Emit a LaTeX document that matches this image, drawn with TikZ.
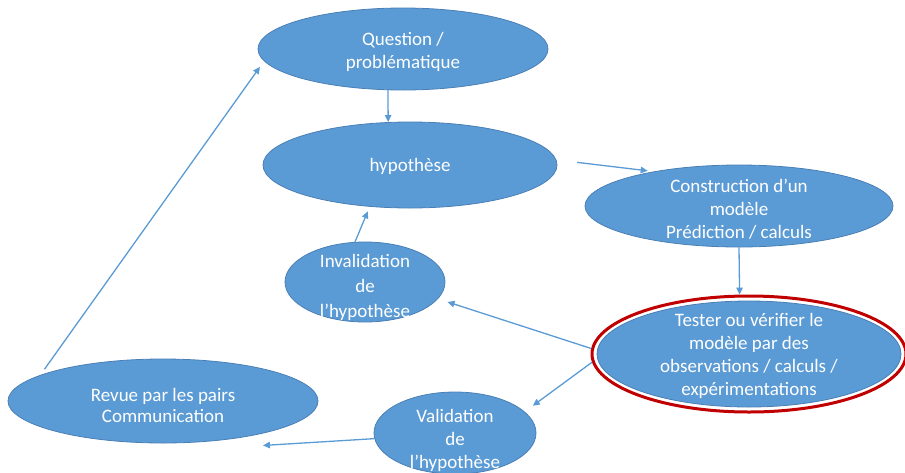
\documentclass[tikz,border=0pt]{standalone}
\usepackage{fontspec}
\setmainfont{Carlito}
\usetikzlibrary{arrows.meta,shapes.geometric}
\definecolor{ofblue}{HTML}{5B9BD5}
\definecolor{ofedge}{HTML}{4A7FB5}
\definecolor{ofred}{HTML}{C00000}
\tikzset{
  bubble/.style={ellipse,fill=ofblue,draw=ofedge,line width=0.8pt,inner sep=0pt},
  ring/.style={ellipse,draw=ofred,line width=3pt,inner sep=0pt},
  label txt/.style={text=white,align=center,font=\fontsize{19}{23}\selectfont,inner sep=0pt},
  conn/.style={draw=ofblue,line width=1.3pt,-{Triangle[length=7pt,width=6.5pt]}}
}
\begin{document}
\begin{tikzpicture}[x=1pt,y=-1pt]
\useasboundingbox (0,0) rectangle (905,472);
% ellipses
\node[bubble,minimum width=290pt,minimum height=82pt] (q) at (403,49) {};
\node[bubble,minimum width=294pt,minimum height=86pt] (h) at (410,165) {};
\node[bubble,minimum width=308pt,minimum height=82pt] (c) at (739,206) {};
\node[bubble,minimum width=160pt,minimum height=80pt] (i) at (365,282) {};
\node[bubble,minimum width=304pt,minimum height=106pt] (t) at (749,354) {};
\node[ring,minimum width=314pt,minimum height=116pt] (tr) at (749,354) {};
\node[bubble,minimum width=310pt,minimum height=84pt] (r) at (163,401) {};
\node[bubble,minimum width=162pt,minimum height=82pt] (v) at (455,433) {};
% texts
\node[label txt] (qt) at (403,52) {Question /\\problématique};
\node[label txt] (ht) at (410,166) {hypothèse};
\node[label txt] (ct) at (739,209) {Construction d’un\\modèle\\Prédiction / calculs};
\node[label txt,font=\fontsize{19}{25}\selectfont] (it) at (365,287) {Invalidation\\de\\l’hypothèse};
\node[label txt] (tt) at (749,356) {Tester ou vérifier le\\modèle par des\\observations / calculs /\\expérimentations};
\node[label txt,font=\fontsize{19}{21}\selectfont] (rt) at (163,405) {Revue par les pairs\\Communication};
\node[label txt] (vt) at (455,440) {Validation\\de\\l’hypothèse};
% connectors
\draw[conn] (q.250) -- (h.117.4);
\draw[conn,shorten <=21pt,shorten >=6pt] (h.2) -- (c.158.7);
\draw[conn] (c.south) -- (tr.99.8);
\draw[conn,shorten >=10pt] (tr.178) -- (i.-13);
\draw[conn,shorten >=10pt] (tr.183) -- (v.17.2);
\draw[conn,shorten >=5pt] (i.104) -- (h.226.3);
\draw[conn] (v.184) -- ([yshift=-12pt]r.-18.7);
\draw[conn,shorten <=7pt,shorten >=7pt] (r.168) -- (q.185.5);
\end{tikzpicture}
\end{document}
